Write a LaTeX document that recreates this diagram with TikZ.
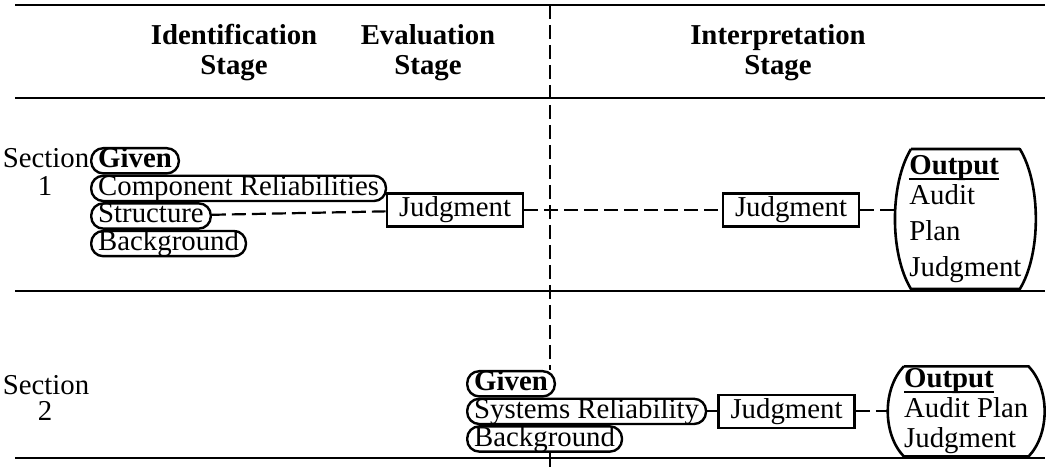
\documentclass[tikz,border=0pt]{standalone}
\usepackage{fontspec}
\setmainfont{Liberation Serif}
\usetikzlibrary{positioning,calc}

\newcommand{\outhead}{\setbox0\hbox{\textbf{Output}}\rlap{\rule[-2.8pt]{\wd0}{1.2pt}}\box0}

\tikzset{
  pill/.style={draw, line width=1.2pt, rounded corners=6pt, inner xsep=3.5pt, inner ysep=0pt,
    text height=9.8pt, text depth=2.8pt, anchor=north west},
  judge/.style={draw, line width=1.3pt, inner xsep=6pt, inner ysep=0pt,
    text height=9.8pt, text depth=3pt, minimum height=16.5pt},
  head/.style={font=\fontsize{14.4}{15}\selectfont\bfseries, align=center},
  barrel/.style={align=left, inner xsep=7pt, inner ysep=3pt},
  link/.style={line width=1.1pt, dash pattern=on 7pt off 3pt},
  solidlink/.style={line width=1.1pt},
  rulerline/.style={line width=1.3pt},
}

\begin{document}
\begin{tikzpicture}[x=0.5pt,y=-0.5pt,font=\fontsize{14.4}{17}\selectfont]
\useasboundingbox (0,0) rectangle (1061,470);

% table rules
\draw[rulerline] (15,5) -- (1045,5);
\draw[rulerline] (15,98) -- (1045,98);
\draw[rulerline] (15,291) -- (1045,291);
\draw[rulerline] (15,458) -- (1045,458);

% headings
\node[head] (idhead) at (234,53) {Identification\\Stage};
\node[head] (evhead) at (428,53) {Evaluation\\Stage};
\node[head] (inhead) at (778,53) {Interpretation\\Stage};

% section 1
\node (sec1) at (46,158) {Section};
\node (sec1num) at (45,186) {1};
\node[pill] (given1) at (90,147) {\textbf{Given}};
\node[pill, below=0pt of given1.south west, anchor=north west] (comp1) {Component Reliabilities};
\node[pill, below=0pt of comp1.south west, anchor=north west] (struct1) {Structure};
\node[pill, below=0pt of struct1.south west, anchor=north west] (back1) {Background};
\node[judge] (judge1) at (455,210) {Judgment};
\node[judge] (judge2) at (791,210) {Judgment};
\node[barrel, anchor=west] (out1) at (895,219)
  {\outhead\\[-2pt]Audit\\[1pt]Plan\\[1pt]Judgment};
\draw[line width=1.3pt, line join=round]
  ([xshift=8pt]out1.north west) -- ([xshift=-8pt]out1.north east)
  .. controls ([xshift=2.7pt]$(out1.north east)!0.25!(out1.south east)$)
  and ([xshift=2.7pt]$(out1.north east)!0.75!(out1.south east)$) .. ([xshift=-8pt]out1.south east)
  -- ([xshift=8pt]out1.south west)
  .. controls ([xshift=-2.7pt]$(out1.north west)!0.75!(out1.south west)$)
  and ([xshift=-2.7pt]$(out1.north west)!0.25!(out1.south west)$) .. ([xshift=8pt]out1.north west);

\draw[link] (struct1) -- (judge1);
\draw[link] (judge1) -- (judge2);
\draw[link] (judge2.east) -- (judge2.east -| out1.west);

% section 2
\node (sec2) at (46,385) {Section};
\node (sec2num) at (45,411) {2};
\node[pill] (given2) at (466,370) {\textbf{Given}};
\node[pill, below=0pt of given2.south west, anchor=north west] (sys2) {Systems Reliability};
\node[pill, below=0pt of sys2.south west, anchor=north west] (back2) {Background};
\node[judge, right=5pt of sys2] (judge3) {Judgment};
\node[barrel, anchor=west, right=16pt of judge3, inner ysep=1pt, minimum width=78pt] (out2)
  {\outhead\\[-2pt]Audit Plan\\[-2pt]Judgment};
\draw[line width=1.3pt, line join=round]
  ([xshift=8pt]out2.north west) -- ([xshift=-8pt]out2.north east)
  .. controls ([xshift=2.7pt]$(out2.north east)!0.25!(out2.south east)$)
  and ([xshift=2.7pt]$(out2.north east)!0.75!(out2.south east)$) .. ([xshift=-8pt]out2.south east)
  -- ([xshift=8pt]out2.south west)
  .. controls ([xshift=-2.7pt]$(out2.north west)!0.75!(out2.south west)$)
  and ([xshift=-2.7pt]$(out2.north west)!0.25!(out2.south west)$) .. ([xshift=8pt]out2.north west);

\draw[solidlink] (sys2) -- (judge3);
\draw[link] (judge3) -- (out2);

% stage divider
\coordinate (vtop) at (550,5);
\coordinate (vbot) at (550,470);
\draw[link] (vtop) -- (vtop |- given2.north);
\draw[link] (vtop |- back2.south) -- (vbot);
\end{tikzpicture}
\end{document}
